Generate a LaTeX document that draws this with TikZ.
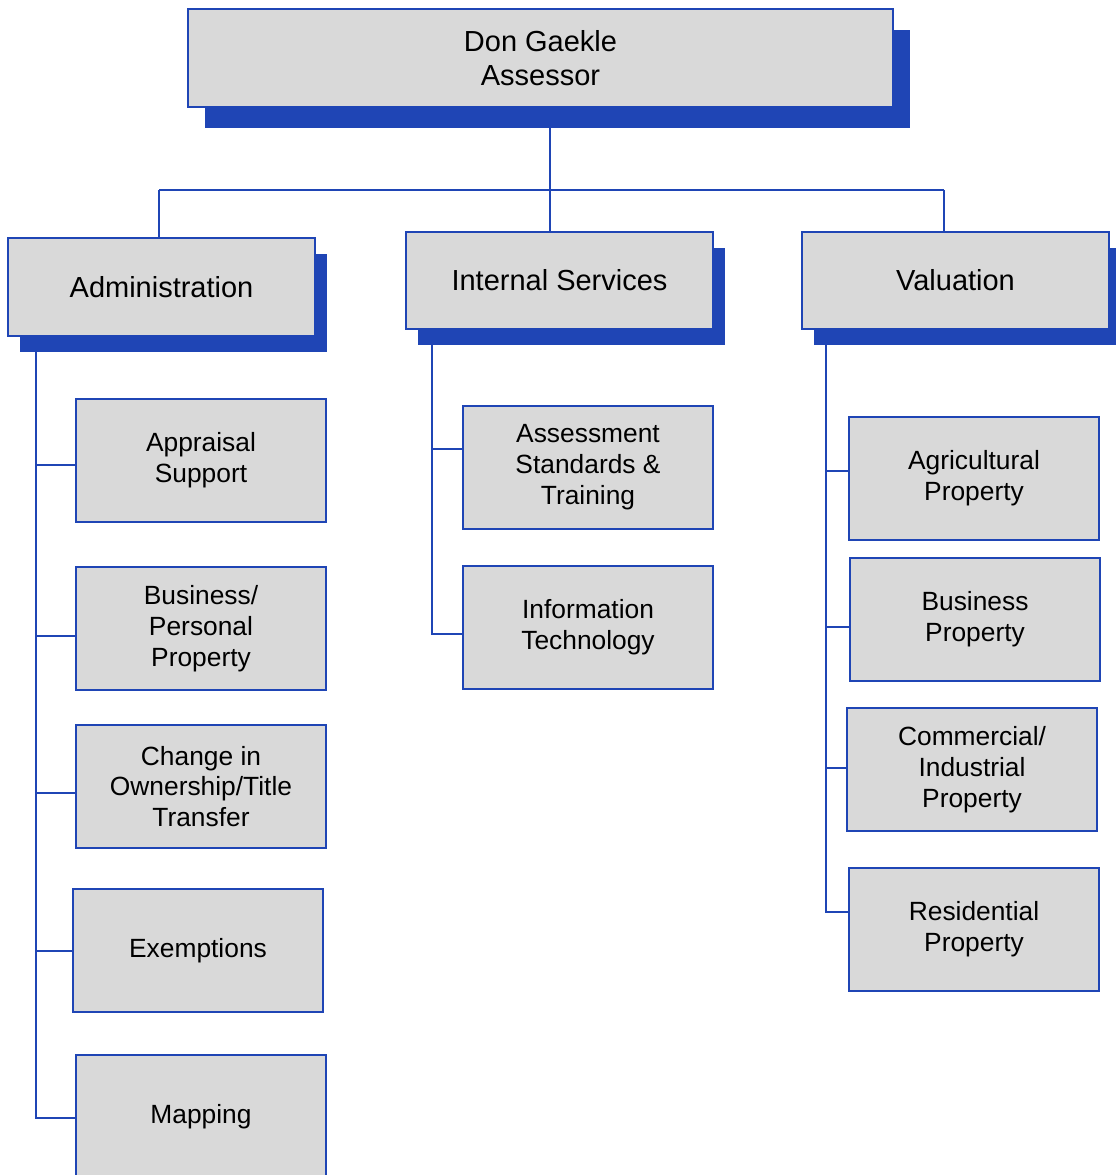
\documentclass[tikz,border=0pt]{standalone}
\usepackage{fontspec}
\setmainfont{Liberation Sans}
\usetikzlibrary{positioning,shadows,backgrounds,calc}
\definecolor{orgblue}{RGB}{31,69,181}
\definecolor{boxgray}{RGB}{217,217,217}

\begin{document}
\begin{tikzpicture}[
  x=0.02cm,y=-0.02cm,
  chief/.style={rectangle,draw=orgblue,line width=1pt,fill=boxgray,align=center,
                minimum width=14.1cm,minimum height=1.96cm,
                font=\fontsize{16.5}{19.3}\selectfont,
                drop shadow={shadow xshift=0.34cm,shadow yshift=-0.42cm,fill=orgblue,opacity=1}},
  branch/.style={rectangle,draw=orgblue,line width=1pt,fill=boxgray,align=center,
                 minimum width=6.14cm,minimum height=1.95cm,
                 font=\fontsize{16.5}{19.3}\selectfont,
                 drop shadow={shadow xshift=0.24cm,shadow yshift=-0.32cm,fill=orgblue,opacity=1}},
  unit/.style={rectangle,draw=orgblue,line width=1pt,fill=boxgray,align=center,
               minimum width=5cm,minimum height=2.46cm,
               font=\fontsize{15}{17.6}\selectfont},
  link/.style={draw=orgblue,line width=0.8pt}
]
\useasboundingbox (0,0) rectangle (1115,1175);

% ---- head ----
\node[chief] (head) at (540.5,58) {Don Gaekle\\Assessor};

% ---- divisions ----
\node[branch] (admin) at (161.5,287) {Administration};
\node[branch] (isvc) at (559.5,280.5) {Internal Services};
\node[branch] (val) at (955.5,280.5) {Valuation};

% ---- administration units ----
\node[unit] (appr) at (201,460.5) {Appraisal\\Support};
\node[unit] (bpp) at (201,628.5) {Business/\\Personal\\Property};
\node[unit] (chg) at (201,786.5) {Change in\\Ownership/Title\\Transfer};
\node[unit] (exm) at (198,950.5) {Exemptions};
\node[unit] (mapp) at (201,1116.5) {Mapping};

% ---- internal services units ----
\node[unit] (asmt) at (588,467.5) {Assessment\\Standards \&\\Training};
\node[unit] (itec) at (588,627.5) {Information\\Technology};

% ---- valuation units ----
\node[unit] (agri) at (974,478.5) {Agricultural\\Property};
\node[unit] (busp) at (975,619.5) {Business\\Property};
\node[unit] (comm) at (972,769.5) {Commercial/\\Industrial\\Property};
\node[unit] (resi) at (974,929.5) {Residential\\Property};

% ---- connectors ----
\coordinate (bus) at (550,190);
\coordinate (ja) at (159,190);
\coordinate (jv) at (944,190);
\coordinate (ta) at (36,0);
\coordinate (ti) at (432,0);
\coordinate (tv) at (826,0);
\begin{scope}[on background layer]
  \draw[link] (head.south -| bus) -- (bus);
  \draw[link] (ja) -- (jv);
  \draw[link] (ja) -- (ja |- admin.north);
  \draw[link] (bus) -- (bus |- isvc.north);
  \draw[link] (jv) -- (jv |- val.north);
  % trunks down the left of each division
  \draw[link] (ta |- admin.south) |- ($(mapp.west)+(0,1.5)$);
  \foreach \u/\d in {appr/4.5,bpp/7.5,chg/6.5,exm/0.5}{
    \draw[link] (ta |- {$(\u.west)+(0,\d)$}) -- ($(\u.west)+(0,\d)$);
  }
  \draw[link] (ti |- isvc.south) |- ($(itec.west)+(0,6.5)$);
  \draw[link] (ti |- {$(asmt.west)+(0,-18.5)$}) -- ($(asmt.west)+(0,-18.5)$);
  \draw[link] (tv |- val.south) |- ($(resi.west)+(0,-17.5)$);
  \foreach \u/\d in {agri/-7.5,busp/7.5,comm/-1.5}{
    \draw[link] (tv |- {$(\u.west)+(0,\d)$}) -- ($(\u.west)+(0,\d)$);
  }
\end{scope}

\end{tikzpicture}
\end{document}
